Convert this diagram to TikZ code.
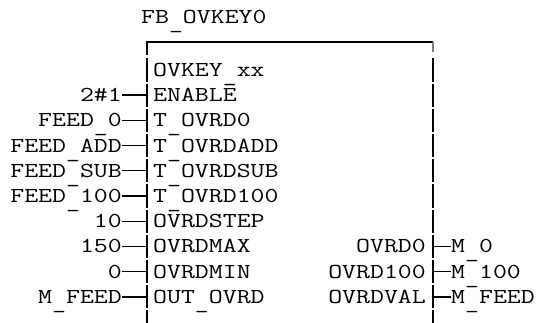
\documentclass[tikz,border=0pt]{standalone}
\usepackage{fontspec}
\setmonofont[FakeStretch=1.27]{Latin Modern Mono}
\newcommand\us{\raisebox{-5pt}{\_}}
\begin{document}
\begin{tikzpicture}[x=1pt,y=-1pt,
  txt/.style={inner sep=0pt,font=\fontsize{21.3}{25}\selectfont\ttfamily},
  boxline/.style={line width=1.4pt},
  conn/.style={line width=1.4pt}]
\useasboundingbox (0,0) rectangle (543,323);
\node[txt,anchor=base west] (title) at (141,24) {FB\us OVKEY0};
% box
\draw[boxline] (146.3,42) -- (433,42);
\draw[boxline] (147,41.3) -- (147,55.4);
\draw[boxline,gray] (433,42) -- (433,52);
\foreach \k in {0,...,10} {
  \pgfmathsetmacro\ya{57.4+25.2*\k+1}
  \pgfmathsetmacro\yb{57.4+25.2*(\k+1)-1}
  \draw[boxline] (147,\ya) -- (147,\yb);
  \draw[boxline] (433,\ya) -- (433,\yb);
}
% inner left texts
\foreach \t [count=\i from 0] in {OVKEY\us xx, ENABLE, T\us OVRD0, T\us OVRDADD, T\us OVRDSUB, T\us OVRD100, OVRDSTEP, OVRDMAX, OVRDMIN, OUT\us OVRD} {
  \node[txt,anchor=base west] (in\i) at (153,{76.5+25.2*\i}) {\t};
}
% left inputs
\foreach \t [count=\i] in {2\#1, FEED\us 0, FEED\us ADD, FEED\us SUB, FEED\us 100, 10, 150, 0, M\us FEED} {
  \coordinate (bl\i) at (147,{70+25.2*\i});
  \node[txt,anchor=base east] (l\i) at (122,{76.5+25.2*\i}) {\t};
  \draw[conn] (l\i.base east |- bl\i) -- (bl\i);
}
% right outputs
\foreach \t/\o [count=\i from 7] in {OVRD0/M\us 0, OVRD100/M\us 100, OVRDVAL/M\us FEED} {
  \coordinate (br\i) at (433,{70+25.2*\i});
  \node[txt,anchor=base east] (r\i) at (426,{76.5+25.2*\i}) {\t};
  \node[txt,anchor=base west] (o\i) at (451,{76.5+25.2*\i}) {\o};
  \draw[conn] (br\i) -- (o\i.base west |- br\i);
}
\end{tikzpicture}
\end{document}
